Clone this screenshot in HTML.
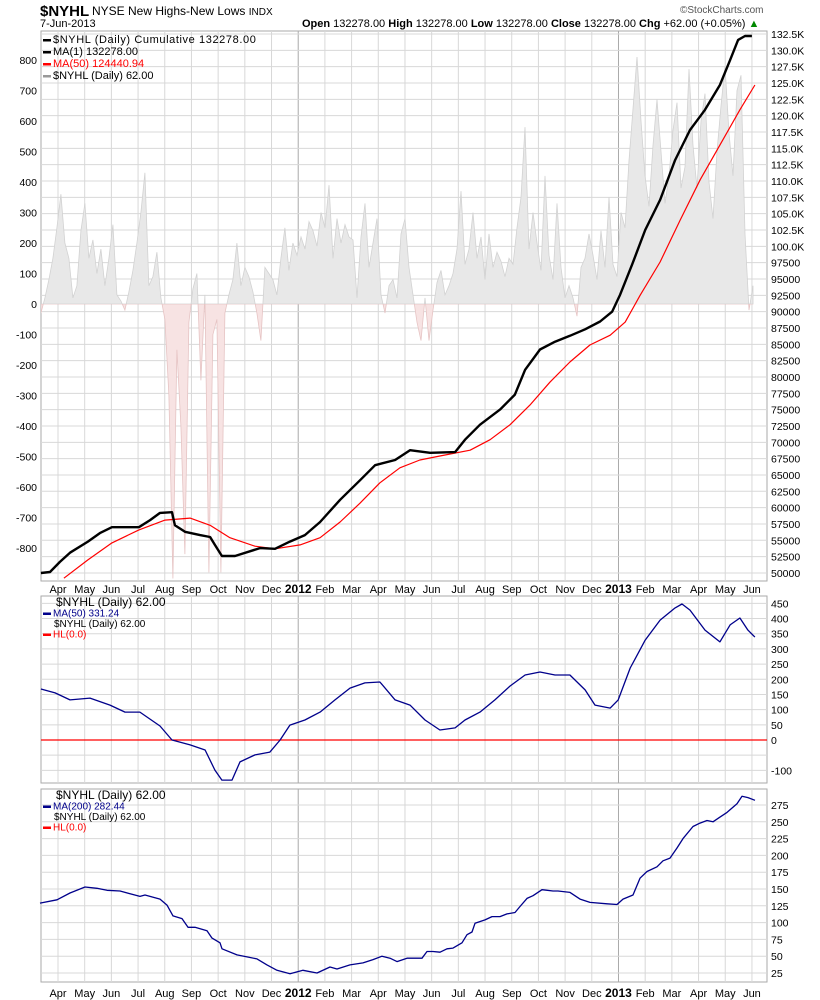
<!DOCTYPE html>
<html><head><meta charset="utf-8">
<style>
body{margin:0;background:#fff;font-family:"Liberation Sans",sans-serif;}
svg{display:block}
text{font-family:"Liberation Sans",sans-serif;font-size:11px;fill:#000}
</style></head>
<body>
<svg id="chart" width="820" height="1000" viewBox="0 0 820 1000" xmlns="http://www.w3.org/2000/svg">
<text x="40" y="16" style="font-size:15px;font-weight:bold">$NYHL</text>
<text x="92" y="15" style="font-size:12px">NYSE New Highs-New Lows <tspan style="font-size:10px">INDX</tspan></text>
<text x="40" y="27">7-Jun-2013</text>
<text x="302" y="27"><tspan font-weight="bold">Open</tspan> 132278.00 <tspan font-weight="bold">High</tspan> 132278.00 <tspan font-weight="bold">Low</tspan> 132278.00 <tspan font-weight="bold">Close</tspan> 132278.00 <tspan font-weight="bold">Chg</tspan> +62.00 (+0.05%) <tspan fill="#080">▲</tspan></text>
<text x="680" y="13" style="font-size:10px;fill:#555">©StockCharts.com</text>
<g id="g"></g>
</svg>
<script>
const months=["Apr","May","Jun","Jul","Aug","Sep","Oct","Nov","Dec","2012","Feb","Mar","Apr","May","Jun","Jul","Aug","Sep","Oct","Nov","Dec","2013","Feb","Mar","Apr","May","Jun"];
const cumT=[-0.64,-0.30,0.07,0.45,1.12,1.57,2.02,3.03,3.45,3.82,4.27,4.38,4.76,5.32,5.70,5.88,6.14,6.63,7.57,8.13,8.69,9.25,9.82,10.57,11.32,11.88,12.63,13.19,13.94,14.88,15.25,15.81,16.56,17.12,17.50,18.06,18.62,19.18,19.75,20.31,20.76,21.06,21.51,22.00,22.56,23.12,23.68,24.24,24.80,25.18,25.48,25.74,26.00];
const cumV=[50.0,50.15,51.7,53.1,54.8,56.1,57.0,57.0,58.1,59.2,59.3,57.3,56.3,55.8,55.5,54.3,52.6,52.6,53.8,53.7,54.8,55.8,57.8,61.2,64.2,66.5,67.3,68.8,68.4,68.5,70.4,72.7,75.0,77.3,81.1,84.2,85.4,86.3,87.3,88.5,90.0,92.6,97.2,102.5,107.1,113.2,117.8,120.9,124.7,128.5,131.6,132.2,132.2];
const ma50T=[0.22,1.12,2.02,3.03,4.01,4.95,5.70,6.44,7.38,8.13,9.07,9.82,10.57,11.32,12.06,12.81,13.56,14.31,15.44,16.19,16.94,17.68,18.43,19.18,19.93,20.69,21.25,21.81,22.56,23.31,24.06,24.80,25.55,26.11];
const ma50V=[49.2,52.0,54.6,56.6,58.1,58.4,57.3,55.4,54.1,53.7,54.3,55.4,57.8,60.7,63.8,66.1,67.3,67.9,68.8,70.4,72.7,75.7,79.2,82.3,84.9,86.4,88.4,92.5,97.6,104.0,110.2,115.5,120.9,124.7];
const daily=[-30,20,80,150,250,360,200,150,20,60,240,330,150,210,100,180,60,150,260,30,10,-20,40,110,200,300,430,60,90,170,20,-50,-300,-900,-150,-400,-820,-60,50,100,-250,30,-880,-100,-50,-880,-30,30,80,200,60,120,90,40,-30,-120,120,100,80,30,150,250,110,200,160,220,180,270,240,190,300,250,390,150,280,200,260,220,210,20,220,330,120,200,280,30,-30,60,80,20,230,280,120,30,-60,-120,20,-120,-20,70,110,30,60,100,180,370,130,180,300,150,220,80,230,120,170,140,90,150,130,250,350,580,180,300,200,110,420,160,80,330,120,20,60,20,-40,120,150,230,160,80,240,120,350,130,90,300,250,470,640,810,600,420,320,520,670,500,330,420,570,660,380,450,770,520,380,600,690,400,280,500,650,780,560,420,700,750,230,-20,60];
const osc50T=[-0.64,-0.11,0.45,1.20,1.95,2.51,3.07,3.82,4.27,4.95,5.51,5.88,6.14,6.52,6.82,7.38,7.94,8.32,8.69,9.25,9.82,10.38,10.94,11.50,12.06,12.63,13.19,13.75,14.31,14.88,15.25,15.81,16.37,16.94,17.50,18.06,18.62,19.18,19.75,20.12,20.69,20.99,21.44,22.00,22.56,23.12,23.38,23.68,24.24,24.80,25.18,25.55,25.85,26.11];
const osc50V=[168,155,132,138,115,92,92,46,0,-16,-33,-99,-132,-132,-72,-49,-40,0,49,66,92,132,171,188,191,132,115,66,33,40,66,92,132,178,214,224,214,214,165,115,105,132,237,329,395,435,448,428,362,323,379,402,362,339];
const ma200X=[40,57,70,85,97,107,120,140,145,160,167,173,182,188,195,207,212,220,222,237,247,257,267,277,290,303,317,330,337,350,363,373,382,390,397,407,422,427,433,440,447,453,462,467,472,475,485,492,500,507,515,520,527,533,542,553,558,570,580,590,607,617,623,633,640,647,657,663,670,677,683,693,700,707,713,720,727,737,742,748,755];
const ma200V=[129,134,144,153,151,148,147,139,141,135,126,110,106,93,93,88,77,70,61,52,49,46,37,29,24,29,25,34,31,37,40,45,50,47,42,47,47,57,57,56,61,62,70,82,86,99,104,109,109,113,115,124,136,140,149,147,147,145,135,130,128,127,135,141,166,176,183,192,196,211,225,243,248,252,250,257,264,277,288,286,282];
const leftTicks=[800,700,600,500,400,300,200,100,0,-100,-200,-300,-400,-500,-600,-700,-800];
const oscTicks=[450,400,350,300,250,200,150,100,50,0,-100];
const ma200Ticks=[275,250,225,200,175,150,125,100,75,50,25];

const NS="http://www.w3.org/2000/svg";
const G=document.getElementById('g');
function mk(tag,attrs,parent){const e=document.createElementNS(NS,tag);for(const k in attrs)e.setAttribute(k,attrs[k]);(parent||G).appendChild(e);return e;}
const L=41,R=767;
const X=t=>58+26.69*t;
const ma200T=ma200X.map(x=>(x-58)/26.69);
const P1={top:31,bot:581};
const yCum=v=>34+(132.5-v)*6.533;
const yNH=v=>304-v*0.305;
const P2={top:596,bot:783};
const yOsc=v=>740-v*0.3036;
const P3={top:789,bot:982};
const yM2=v=>805+(275-v)*0.672;

function panel(p,name){
  const r=mk('rect',{x:L,y:p.top,width:R-L,height:p.bot-p.top,fill:'#fff',stroke:'#aaa','stroke-width':1});
  
  
  for(let i=0;i<months.length;i++){
    const x=X(i);
    const ln=mk('line',{x1:x,x2:x,y1:p.top,y2:p.bot,stroke:(months[i]==='2012'||months[i]==='2013')?'#aaa':'#d8d8d8','stroke-width':1});
    
    
  }
}
function hgrid(y){const l=mk('line',{x1:L,x2:R,y1:y,y2:y,stroke:'#d8d8d8','stroke-width':1});
  
  }
function rlabel(y,txt,name){const t=mk('text',{x:771,y:y+4,style:'font-size:10.5px'});t.textContent=txt;
  
  }
function dateAxis(y){
  for(let i=0;i<months.length;i++){
    const bold=months[i]==='2012'||months[i]==='2013';
    const t=mk('text',{x:X(i),y:y,'text-anchor':'middle',style:bold?'font-weight:bold;font-size:12px':''});
    t.textContent=months[i];
    
    
  }
}
function line(ts,vs,yf,color,w,name){
  let d='';ts.forEach((t,i)=>{d+=(i?'L':'M')+X(t).toFixed(1)+' '+yf(vs[i]).toFixed(1);});
  const p=mk('path',{d:d,fill:'none',stroke:color,'stroke-width':w,'stroke-linejoin':'round'});
  
  
  return p;
}

panel(P1,'price-panel');
for(let v=50;v<=132.5;v+=2.5){const y=yCum(v);if(y>P1.top&&y<P1.bot)hgrid(y);
  rlabel(y, v>=100?v.toFixed(1)+'K':String(Math.round(v*1000)),'right-axis-label');}
leftTicks.forEach(v=>{const t=mk('text',{x:37,y:yNH(v)+4,'text-anchor':'end',style:'font-size:10.5px'});t.textContent=v;
  
  });
const defs=mk('defs',{});
const c1=mk('clipPath',{id:'pos'},defs);mk('rect',{x:L,y:P1.top,width:R-L,height:yNH(0)-P1.top},c1);
const c2=mk('clipPath',{id:'neg'},defs);mk('rect',{x:L,y:yNH(0),width:R-L,height:P1.bot-yNH(0)},c2);
const dT0=-0.64,dT1=26.04;
let hd='M'+X(dT0)+' '+yNH(0);
daily.forEach((v,i)=>{const t=dT0+i*(dT1-dT0)/(daily.length-1);hd+='L'+X(t).toFixed(1)+' '+yNH(v).toFixed(1);});
hd+='L'+X(dT1)+' '+yNH(0)+'Z';
const hp=mk('path',{d:hd,fill:'#e8e8e8',stroke:'#d2d2d2','stroke-width':0.8,'clip-path':'url(#pos)'});


const hn=mk('path',{d:hd,fill:'#f7e3e3',stroke:'#e6c4c4','stroke-width':0.8,'clip-path':'url(#neg)'});


const c3=mk('clipPath',{id:'p1'},defs);mk('rect',{x:L,y:P1.top,width:R-L,height:P1.bot-P1.top},c3);
const ma=line(ma50T,ma50V,yCum,'#f00',1.2,'ma50-line');ma.setAttribute('clip-path','url(#p1)');
line(cumT,cumV,yCum,'#000',2.4,'cumulative-line');
const lg=[["#000","$NYHL (Daily) Cumulative 132278.00",'legend-cumulative'],["#000","MA(1) 132278.00",'legend-ma1'],["#f00","MA(50) 124440.94",'legend-ma50'],["#999","$NYHL (Daily) 62.00",'legend-daily']];
lg.forEach((e,i)=>{const y=40+i*12;mk('rect',{x:43,y:y-1,width:8,height:2.5,fill:e[0]});
  const t=mk('text',{x:53,y:y+3,style:'fill:'+(e[0]==='#f00'?'#f00':'#000')+(i==0?';letter-spacing:0.6px':'')});t.textContent=e[1];
  
  });
dateAxis(593);

panel(P2,'ma50-oscillator-panel');
for(let v=-100;v<=450;v+=50){hgrid(yOsc(v));}
oscTicks.forEach(v=>rlabel(yOsc(v),String(v),'osc-axis-label'));
const z=mk('line',{x1:L,x2:R,y1:yOsc(0),y2:yOsc(0),stroke:'#f00','stroke-width':1.2});


line(osc50T,osc50V,yOsc,'#00008b',1.3,'nyhl-ma50-line');
function legend2(y0,ma,name){
  const items=[["","$NYHL (Daily) 62.00",'#000'],["#00008b",ma,'#00008b'],["","$NYHL (Daily) 62.00",'#000'],["#f00","HL(0.0)",'#f00']];
  items.forEach((e,i)=>{const y=y0+i*10.5;if(e[0])mk('rect',{x:43,y:y-1,width:8,height:2.5,fill:e[0]});
    const t=mk('text',{x:i==0?56:(i==2?54:53),y:y+3,style:'fill:'+e[2]+';font-size:'+(i==0?12:10)+'px'});t.textContent=e[1];
    
    });
}
legend2(603,'MA(50) 331.24','panel2');

panel(P3,'ma200-panel');
for(let v=25;v<=275;v+=25){hgrid(yM2(v));}
ma200Ticks.forEach(v=>rlabel(yM2(v),String(v),'ma200-axis-label'));
line(ma200T,ma200V,yM2,'#00008b',1.3,'nyhl-ma200-line');
legend2(796,'MA(200) 282.44','panel3');
dateAxis(997);
</script>
</body></html>
